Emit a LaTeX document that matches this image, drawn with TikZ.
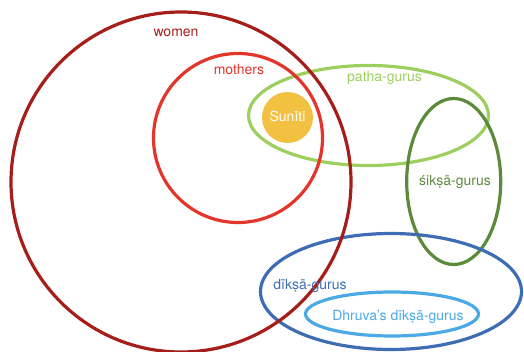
\documentclass[tikz,border=0pt]{standalone}
\usepackage{fontspec}
\setmainfont{TeX Gyre Heros}
\definecolor{cwomen}{HTML}{A61E1A}
\definecolor{cmothers}{HTML}{E2352B}
\definecolor{cpatha}{HTML}{9CCF5E}
\definecolor{csiksa}{HTML}{5B8A3A}
\definecolor{cdiksa}{HTML}{3E6DB3}
\definecolor{cdhruva}{HTML}{4BA9E6}
\definecolor{csuniti}{HTML}{F2C141}
\tikzset{
  ring/.style={line width=3.2pt},
  lbl/.style={inner sep=0pt, font=\fontsize{14}{16}\selectfont}
}
\begin{document}
\begin{tikzpicture}[x=1pt,y=-1pt]
\useasboundingbox (0,0) rectangle (524,352);
\draw[ring,cpatha] (368.5,115.5) ellipse [x radius=120, y radius=50];
\draw[ring,csiksa] (453.7,181.5) ellipse [x radius=47, y radius=83];
\draw[ring,cdiksa] (391,291.5) ellipse [x radius=130.5, y radius=58];
\draw[ring,cdhruva] (392,314) ellipse [x radius=86.5, y radius=22];
\draw[ring,cmothers] (238,138) circle [radius=84.5];
\draw[ring,cwomen] (181,182) circle [radius=170];
\fill[csuniti] (287.5,117.5) circle [radius=25.5];
\node[lbl,text=cwomen] (women) at (176,33) {women};
\node[lbl,text=cmothers] (mothers) at (239,69.5) {mothers};
\node[lbl,text=cpatha] (patha) at (384.5,77.5) {patha-gurus};
\node[lbl,text=white] (suniti) at (287.5,116) {Sunīti};
\node[lbl,text=csiksa] (siksa) at (455,182) {śikṣā-gurus};
\node[lbl,text=cdiksa] (diksa) at (310,286) {dīkṣā-gurus};
\node[lbl,text=cdhruva] (dhruva) at (398,317) {Dhruva’s dīkṣā-gurus};
\end{tikzpicture}
\end{document}
